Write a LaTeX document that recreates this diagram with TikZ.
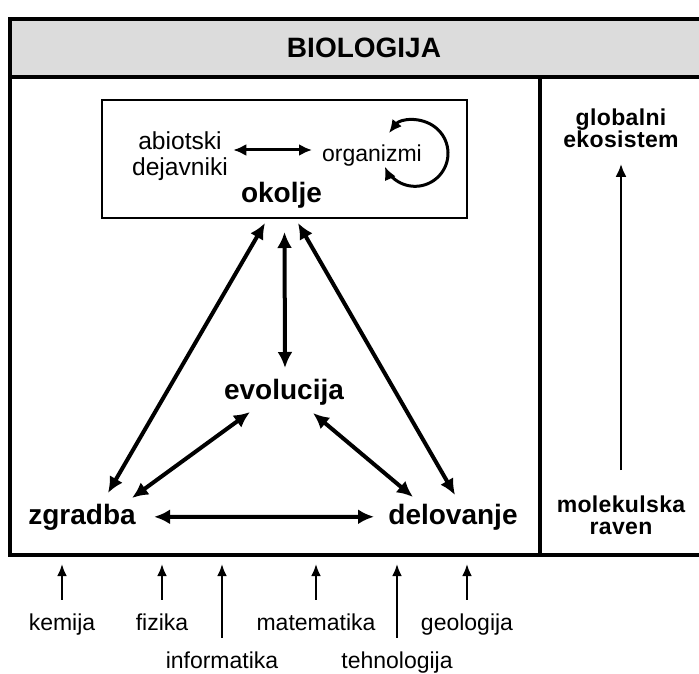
\documentclass[tikz,border=0pt]{standalone}
\usepackage{fontspec}
\setmainfont{Liberation Sans}
\usetikzlibrary{arrows.meta,calc}
\definecolor{hdrGray}{RGB}{220,220,220}
\tikzset{
  frame/.style={draw, line width=1.6pt, outer sep=0pt, inner sep=0pt, anchor=north west},
  txt/.style={inner sep=0pt, font=\fontsize{11.5}{13}\selectfont},
  bigtxt/.style={inner sep=0pt, font=\bfseries\fontsize{14}{16}\selectfont},
  sidetxt/.style={inner sep=0pt, align=center, font=\bfseries\fontsize{11.5}{11}\selectfont\addfontfeatures{LetterSpace=1.5}},
  link/.style={line width=2pt, {Latex[length=8pt,width=7.5pt]}-{Latex[length=8pt,width=7.5pt]}},
  small link/.style={line width=1.5pt, {Latex[length=6.5pt,width=6pt]}-{Latex[length=6.5pt,width=6pt]}},
  feed/.style={line width=1.2pt, -{Latex[length=6pt,width=5pt]}, shorten <=6.5pt, shorten >=4.5pt},
}
\begin{document}
\begin{tikzpicture}[x=0.5pt,y=-0.5pt]
\useasboundingbox (0,0) rectangle (699,673);
\node[frame, fill=hdrGray, minimum width=354pt, minimum height=29pt,
      font=\bfseries\fontsize{14}{16}\selectfont] (head) at (10,19) {BIOLOGIJA};
\node[frame, minimum width=265pt, minimum height=239pt] (main) at (10,77) {};
\node[frame, minimum width=89pt, minimum height=239pt] (side) at (540,77) {};

\node[draw, line width=1pt, outer sep=0pt, minimum width=182.5pt, minimum height=59pt] (env) at (284.5,159) {};
\node[txt, align=center, font=\fontsize{12.3}{13}\selectfont] (abio) at (180,156) {abiotski\\dejavniki};
\node[txt, anchor=base] (org) at (372,162) {organizmi};
\node[bigtxt, anchor=base] (okl) at (281.5,203) {okolje};
\draw[small link] ($(abio.east)+(5,-6)$) -- ($(org.base)+(-60,-12)$);
\draw[small link] ($(org.base)+(17,-29)$) arc[start angle=-142, end angle=156, radius=33];

\node[bigtxt, anchor=base] (evo) at (284,399) {evolucija};
\node[bigtxt, anchor=base] (zgr) at (82,524) {zgradba};
\node[bigtxt, anchor=base] (del) at (453,524) {delovanje};

\draw[link] ($(env.south)+(0,14)$) -- ($(evo.base)+(1,-31)$);
\draw[link] ($(env.south)+(-19.5,5)$) -- ($(zgr.base)+(26,-31)$);
\draw[link] ($(env.south)+(13.5,5)$) -- ($(del.base)+(2,-29)$);
\draw[link] ($(evo.base)+(-34,13)$) -- ($(zgr.base)+(50,-26)$);
\draw[link] ($(evo.base)+(29,14)$) -- ($(del.base)+(-40,-27)$);
\draw[link, shorten <=9pt, shorten >=7pt] (zgr.east) -- (del.west);

\node[sidetxt] (glob) at (621,128) {globalni\\ekosistem};
\node[sidetxt] (mol) at (621,515) {molekulska\\raven};
\draw[line width=1.4pt, -{Latex[length=6.5pt,width=5.5pt]}, shorten <=12.5pt, shorten >=8pt] (mol) -- (glob);

\node[txt, anchor=base] (kem) at (62,630) {kemija};
\node[txt, anchor=base] (fiz) at (162,630) {fizika};
\node[txt, anchor=base] (inf) at (222,668) {informatika};
\node[txt, anchor=base] (mat) at (316,630) {matematika};
\node[txt, anchor=base] (teh) at (397,668) {tehnologija};
\node[txt, anchor=base] (geo) at (467,630) {geologija};
\foreach \n in {kem,fiz,inf,mat,teh,geo}
  \draw[feed] (\n.north) -- (\n.north |- main.south);
\end{tikzpicture}
\end{document}
